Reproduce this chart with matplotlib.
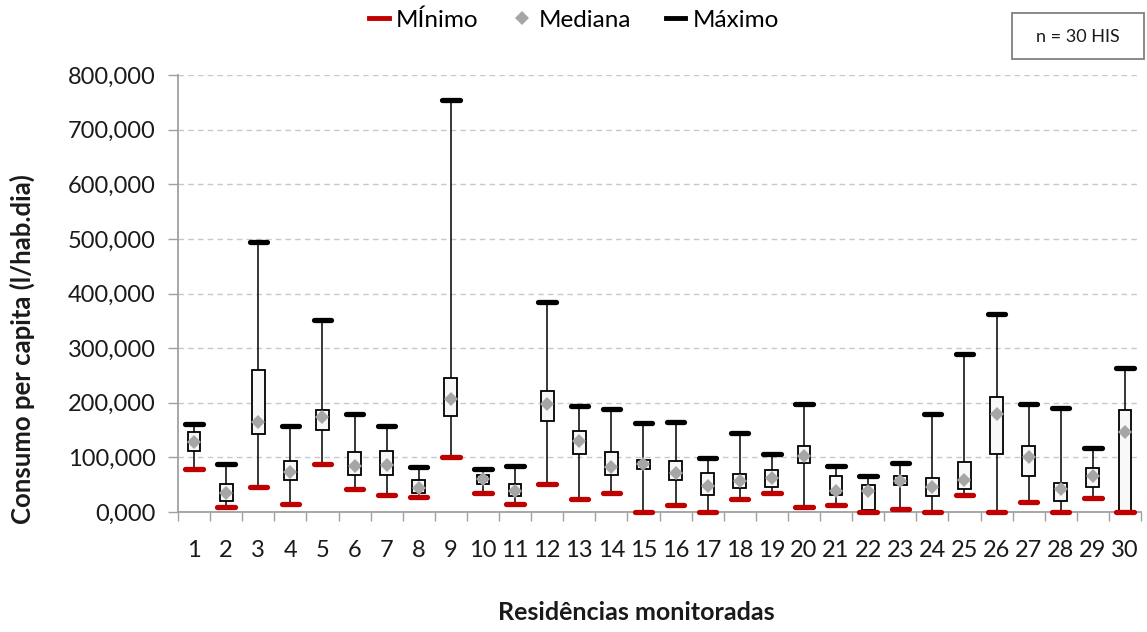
import numpy as np
import matplotlib
matplotlib.use("Agg")
import matplotlib.pyplot as plt
from matplotlib.lines import Line2D
from matplotlib.patches import Rectangle
from matplotlib.ticker import FuncFormatter, MultipleLocator

plt.rcParams['font.family'] = ['Lato', 'DejaVu Sans']

# consumo per capita (l/hab.dia) por residência
residencias = list(range(1, 31))
minimo = [78, 10, 46, 15, 88, 43, 31, 27, 100, 34,
          15, 51, 24, 34, 0, 13, 0, 24, 34, 10,
          13, 0, 5, 0, 31, 0, 19, 0, 26, 0]
quartil1 = [112, 21, 143, 59, 150, 68, 68, 34, 176, 51,
            30, 167, 107, 68, 79, 59, 32, 44, 46, 89,
            32, 3, 49, 30, 42, 107, 65, 21, 46, 1]
mediana = [128, 35, 164, 74, 174, 84, 86, 44, 207, 61,
           38, 197, 130, 82, 88, 71, 48, 56, 62, 102,
           39, 38, 57, 45, 59, 179, 100, 42, 66, 146]
quartil3 = [147, 51, 260, 93, 187, 110, 112, 58, 246, 68,
            51, 222, 148, 110, 96, 93, 72, 70, 77, 121,
            65, 49, 66, 63, 91, 211, 121, 54, 80, 187]
maximo = [161, 88, 495, 158, 351, 179, 158, 83, 755, 78,
          85, 384, 194, 189, 163, 165, 98, 144, 107, 198,
          85, 65, 90, 179, 290, 362, 198, 191, 118, 264]

RED = '#c00000'
GRAY = '#a6a6a6'
AXIS = '#a0a0a0'
TXT = '#1a1a1a'
W, H = 1147, 632

fig = plt.figure(figsize=(W / 100, H / 100), dpi=100)
ax = fig.add_axes([178 / W, 1 - 512 / H, (1141 - 178) / W, (512 - 75) / H])

x = np.arange(len(residencias))
lo = np.array(quartil1)
hi = np.array(quartil3)

# linha min-max por trás da caixa
ax.vlines(x, minimo, maximo, color='black', lw=1.1, zorder=2)
ax.bar(x, hi - lo, bottom=lo, width=0.4, color='#f8f8f8',
       edgecolor='black', linewidth=1.3, zorder=3)
ax.hlines(minimo, x - 0.27, x + 0.27, color=RED, lw=3.8, capstyle='round',
          zorder=4, clip_on=False)
ax.hlines(maximo, x - 0.27, x + 0.27, color='black', lw=3.8, capstyle='round',
          zorder=4, clip_on=False)
ax.plot(x, mediana, linestyle='none', marker='D', ms=7, mew=0, color=GRAY, zorder=5)

ax.set_xlim(-0.5, len(residencias) - 0.5)
ax.set_ylim(0, 800)
ax.yaxis.set_major_locator(MultipleLocator(100))
ax.yaxis.set_major_formatter(FuncFormatter(lambda v, p: f"{v:.3f}".replace('.', ',')))
ax.grid(axis='y', color='#c8c8c8', linestyle=(0, (4, 3)), lw=1)
ax.set_axisbelow(True)

ax.set_xticks(x)
ax.set_xticklabels([str(r) for r in residencias])
ax.set_xticks(np.arange(-0.5, len(residencias)), minor=True)
ax.tick_params(axis='x', which='major', length=0, pad=20, labelsize=17, colors=TXT)
ax.tick_params(axis='x', which='minor', length=6.5, width=1, color=AXIS)
ax.tick_params(axis='y', length=7, width=1, color=AXIS, pad=9, labelsize=17, labelcolor=TXT)

for s in ['top', 'right']:
    ax.spines[s].set_visible(False)
for s in ['left', 'bottom']:
    ax.spines[s].set_color(AXIS)
    ax.spines[s].set_linewidth(1.3)
    ax.spines[s].set_zorder(1)

fig.text(22 / W, 1 - 349 / H, 'Consumo per capita (l/hab.dia)', rotation=90,
         ha='center', va='center', fontsize=18.5, fontweight='bold', color=TXT)
fig.text(636 / W, 1 - 612 / H, 'Residências monitoradas',
         ha='center', va='center', fontsize=18, fontweight='bold', color=TXT)

handles = [Line2D([], [], color=RED, lw=3.5),
           Line2D([], [], linestyle='none', marker='D', ms=7, mew=0, color=GRAY),
           Line2D([], [], color='black', lw=3.5)]
fig.legend(handles, ['MÍnimo', 'Mediana', 'Máximo'], loc='center',
           bbox_to_anchor=(574 / W, 1 - 20 / H), ncol=3, frameon=False,
           fontsize=17.5, handlelength=0.8, handletextpad=0.3, columnspacing=1.4)

# caixa com o tamanho da amostra
fig.add_artist(Rectangle((1012 / W, 1 - 59 / H), 132 / W, 46 / H, transform=fig.transFigure,
                         facecolor='white', edgecolor='#808080', lw=1.3))
fig.text(1078 / W, 1 - 37 / H, 'n = 30 HIS', ha='center', va='center', fontsize=13, color=TXT)

fig.savefig('out.png', dpi=100)
